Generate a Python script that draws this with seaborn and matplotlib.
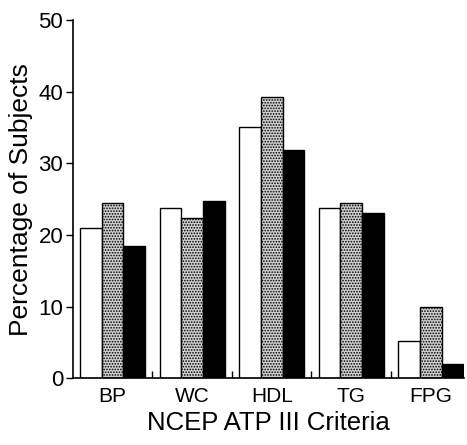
import pandas as pd
import matplotlib
matplotlib.use("Agg")
import matplotlib.pyplot as plt
import seaborn as sns
from matplotlib.ticker import FixedLocator

# Data
criteria = ["BP", "WC", "HDL", "TG", "FPG"]
group_a = [21.0, 23.8, 35.0, 23.7, 5.2]   # white bars
group_b = [24.5, 22.4, 39.3, 24.5, 9.9]   # stippled grey bars
group_c = [18.5, 24.8, 31.8, 23.1, 2.0]   # black bars
groups = ["A", "B", "C"]

df = pd.DataFrame({
    "criteria": criteria * 3,
    "group": [g for g in groups for _ in criteria],
    "pct": group_a + group_b + group_c,
})

sns.set_style("ticks")
plt.rcParams["font.family"] = ["Liberation Sans", "DejaVu Sans"]
plt.rcParams["hatch.color"] = "#6e6e6e"
plt.rcParams["hatch.linewidth"] = 0.8
plt.rcParams["text.color"] = "black"
plt.rcParams["axes.labelcolor"] = "black"
plt.rcParams["xtick.color"] = "black"
plt.rcParams["ytick.color"] = "black"

fig = plt.figure(figsize=(4.67, 4.45), dpi=100)
ax = fig.add_axes([0.156, 0.150, 0.838, 0.805])

sns.barplot(data=df, x="criteria", y="pct", hue="group", order=criteria,
            hue_order=groups, width=0.82, ax=ax, legend=False,
            edgecolor="black", linewidth=1.0, saturation=1)

styles = [("white", None), ("#cfcfcf", "......"), ("black", None)]
for cont, (fc, hatch) in zip(ax.containers, styles):
    for bar in cont:
        bar.set_facecolor(fc)
        bar.set_edgecolor("black")
        if hatch:
            bar.set_hatch(hatch)

ax.set_ylim(0, 50)
ax.set_xlim(-0.5, 4.42)
ax.set_yticks([0, 10, 20, 30, 40, 50])
ax.tick_params(axis="y", labelsize=16, length=5, width=1, direction="out", pad=2)
ax.tick_params(axis="x", which="major", labelsize=15, length=0, pad=6)
ax.xaxis.set_minor_locator(FixedLocator([0.5, 1.5, 2.5, 3.5]))
ax.tick_params(axis="x", which="minor", direction="in", length=5, width=1)

ax.set_xlabel("NCEP ATP III Criteria", fontsize=18.5, labelpad=4)
ax.set_ylabel("Percentage of Subjects", fontsize=19, labelpad=4)

sns.despine(ax=ax)
for s in ["left", "bottom"]:
    ax.spines[s].set_linewidth(1.2)
    ax.spines[s].set_color("black")

fig.savefig("out.png", dpi=100)
